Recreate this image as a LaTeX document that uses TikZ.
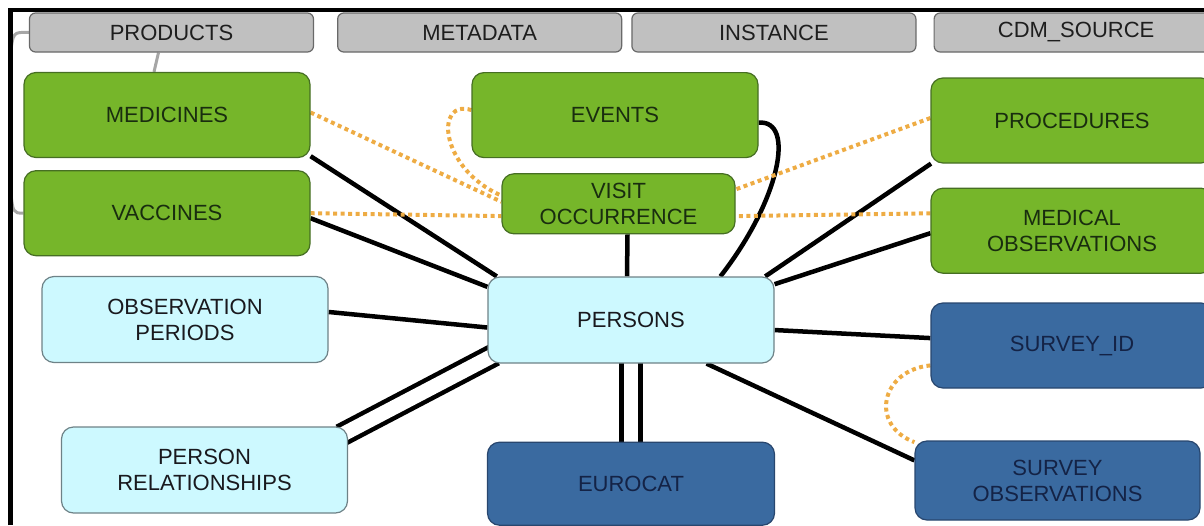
\documentclass[tikz,border=0pt]{standalone}
\usepackage{fontspec}
\setmainfont{Liberation Sans}
\usetikzlibrary{positioning,backgrounds}

\definecolor{headergray}{RGB}{192,192,192}
\definecolor{headerline}{RGB}{105,105,105}
\definecolor{headertext}{RGB}{30,30,30}
\definecolor{tablegreen}{RGB}{118,182,42}
\definecolor{greenline}{RGB}{70,110,35}
\definecolor{greentext}{RGB}{25,45,15}
\definecolor{tablecyan}{RGB}{205,249,255}
\definecolor{cyanline}{RGB}{110,130,135}
\definecolor{cyantext}{RGB}{25,25,30}
\definecolor{tableblue}{RGB}{58,106,160}
\definecolor{blueline}{RGB}{40,70,110}
\definecolor{bluetext}{RGB}{20,35,70}
\definecolor{dotorange}{RGB}{238,172,68}

\begin{document}
\begin{tikzpicture}[x=1pt, y=-1pt,
        every node/.style={align=center, inner sep=0pt, line width=1.2pt, font=\fontsize{22}{26}\selectfont},
        header/.style={draw=headerline, fill=headergray, rounded corners=6pt, minimum width=284pt, minimum height=39pt, text=headertext},
        clinical/.style={draw=greenline, fill=tablegreen, rounded corners=12pt, minimum width=286pt, minimum height=85pt, text=greentext},
        core/.style={draw=cyanline, fill=tablecyan, rounded corners=12pt, minimum width=286pt, minimum height=86pt, text=cyantext},
        survey/.style={draw=blueline, fill=tableblue, rounded corners=12pt, minimum width=285pt, minimum height=85pt, text=bluetext},
        link/.style={line width=4.5pt},
        twolink/.style={line width=4.5pt, double=white, double distance=14.5pt, shorten <=-8pt, shorten >=-8pt},
        optlink/.style={line width=4pt, draw=dotorange, dash pattern=on 4pt off 3.5pt},
        faint/.style={line width=3pt, draw=gray!70}
    ]

    \useasboundingbox (0,0) rectangle (1204,525);

    % Header tables
    \node[header] (products) at (171.5,32.5) {PRODUCTS};
    \node[header, right=23pt of products] (metadata) {METADATA};
    \node[header, right=9pt of metadata] (instance) {INSTANCE};
    \node[header, right=17pt of instance] (cdmsource) {CDM\_SOURCE};

    % Persons and its neighbours
    \node[core] (persons) at (631,320) {PERSONS};
    \node[clinical, above=42pt of persons, xshift=-12.5pt, minimum width=233pt, minimum height=60pt] (visit) {VISIT\\OCCURRENCE};
    \node[clinical, above=15pt of visit, xshift=-3.5pt] (events) {EVENTS};
    \node[survey, below=78pt of persons, minimum width=287pt, minimum height=83pt] (eurocat) {EUROCAT};

    % Left column
    \node[clinical] (medicines) at (167,115) {MEDICINES};
    \node[clinical, below=12pt of medicines] (vaccines) {VACCINES};
    \node[core] (obsperiods) at (185,319.5) {OBSERVATION\\PERIODS};
    \node[core] (personrel) at (204.5,470) {PERSON\\RELATIONSHIPS};

    % Right column
    \node[clinical, minimum width=282pt] (procedures) at (1072,120.5) {PROCEDURES};
    \node[clinical, minimum width=282pt, below=24pt of procedures] (medobs) {MEDICAL\\OBSERVATIONS};
    \node[survey, minimum width=282pt] (surveyid) at (1072,345.5) {SURVEY\_ID};
    \node[survey, minimum height=79pt] (surveyobs) at (1057.5,480.5) {SURVEY\\OBSERVATIONS};

    % Edges
    \begin{scope}[on background layer]
      \draw[faint] ([xshift=-13pt]products.south) -- ([xshift=-13pt]medicines.north);
      \draw[faint] (products.west) .. controls (13,32) .. (10.5,55) -- (10.5,190) .. controls (13,213) .. (vaccines.west);

      \draw[link] (medicines.-16) -- (persons.162);
      \draw[link] (vaccines.-2) -- (persons.167);
      \draw[link] (obsperiods.3) -- (persons.183);
      \draw[twolink] (personrel.15) -- (persons.195);
      \draw[link] ([xshift=9pt]visit.south) -- ([xshift=-4pt]persons.north);
      \draw[link] (events.-3) .. controls +(37,-3) and +(60,-77) .. (persons.26);
      \draw[link] (procedures.197) -- (persons.18);
      \draw[link] (medobs.181) -- (persons.14);
      \draw[link] (persons.-4) -- (surveyid.177);
      \draw[link] (persons.-30) -- (surveyobs.172);
      \draw[twolink] (persons.south) -- (eurocat.north);

      \draw[optlink] (medicines.1) -- (visit.179);
      \draw[optlink] (vaccines.east) -- (visit.186);
      \draw[optlink] (events.178) .. controls +(-37,-12) and +(-62,-27) .. (visit.176);
      \draw[optlink] (procedures.179) -- (visit.7);
      \draw[optlink] (medobs.173) -- (visit.-6);
      \draw[optlink] (surveyid.188) .. controls +(-50,5) and +(-45,-17) .. (surveyobs.165);
    \end{scope}

    % Frame
    \draw[line width=4.5pt] (10.5,525) -- (10.5,10) -- (1204,10);

\end{tikzpicture}
\end{document}
